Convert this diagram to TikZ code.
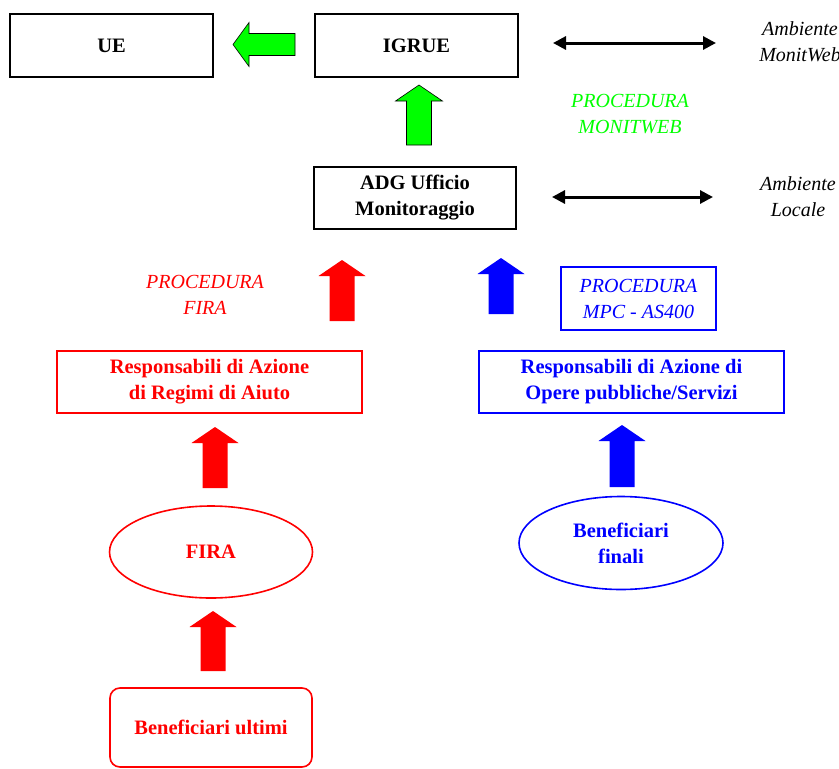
\documentclass[tikz,border=0pt]{standalone}
\usepackage{fontspec}
\setmainfont{Liberation Serif}
\usetikzlibrary{arrows.meta,shapes.geometric}
\definecolor{lgreen}{RGB}{0,255,0}
\definecolor{dred}{RGB}{255,0,0}
\definecolor{dblue}{RGB}{0,0,255}
% block arrow pointing up: fill, outline, x centre, tip y, bottom y
\newcommand{\blockup}[5]{%
  \path[fill=#1,draw=#2,line width=0.6pt,line join=miter]
    (#3-12.5,#5) -- (#3-12.5,#4+16) -- (#3-23.5,#4+16) -- (#3,#4)
    -- (#3+23.5,#4+16) -- (#3+12.5,#4+16) -- (#3+12.5,#5) -- cycle;}
\begin{document}
\begin{tikzpicture}[x=1pt,y=-1pt,
  btxt/.style={font=\fontsize{20.5}{26}\selectfont\bfseries, align=center, inner sep=0pt},
  itxt/.style={font=\fontsize{20}{26}\selectfont\itshape, align=center, inner sep=0pt},
  blk/.style={btxt, draw=black, line width=1.6pt, rectangle},
  rbox/.style={btxt, draw=dred, text=dred, line width=1.6pt, rectangle},
  bbox/.style={btxt, draw=dblue, text=dblue, line width=1.6pt, rectangle},
  dbl/.style={line width=3pt, {Triangle[length=13pt,width=13pt]}-{Triangle[length=13pt,width=13pt]}}
]
\useasboundingbox (0,0) rectangle (839,769);

% top row
\node[blk, minimum width=203pt, minimum height=63pt] (ue) at (111.5,45.5) {UE};
\node[blk, minimum width=203pt, minimum height=63pt] (igrue) at (416.5,45.5) {IGRUE};
\node[blk, minimum width=202pt, minimum height=62pt] (adg) at (415,198) {ADG Ufficio\\Monitoraggio};

% environment labels
\node[itxt] (amw) at (800,41.5) {Ambiente\\MonitWeb};
\node[itxt] (aloc) at (798,196.5) {Ambiente\\Locale};
\coordinate (d1a) at (553,43);
\coordinate (d1b) at (716,43);
\coordinate (d2a) at (552,197);
\coordinate (d2b) at (713,197);
\draw[dbl] (d1a) -- (d1b);
\draw[dbl] (d2a) -- (d2b);

\node[itxt, text=lgreen] (pmw) at (630,114) {PROCEDURA\\MONITWEB};

% green arrows
\path[fill=lgreen,draw=black,line width=0.6pt,line join=miter]
  (295,33.5) -- (249,33.5) -- (249,22.5) -- (233,44.5) -- (249,66.5) -- (249,55.5) -- (295,55.5) -- cycle;
\blockup{lgreen}{black}{419}{85}{145}

% middle
\node[itxt, text=dred] (pfira) at (205,294.5) {PROCEDURA\\FIRA};
\node[itxt, text=dblue, draw=dblue, line width=1.6pt, minimum width=155pt, minimum height=63pt] (pmpc) at (638.5,298.5) {PROCEDURA\\MPC - AS400};

\blockup{dred}{none}{342}{260}{321}
\blockup{dblue}{none}{501}{258}{314}

\node[rbox, minimum width=305pt, minimum height=62pt] (rra) at (209.5,382) {Responsabili di Azione\\di Regimi di Aiuto};
\node[bbox, minimum width=305pt, minimum height=62pt] (rop) at (631.5,382) {Responsabili di Azione di\\Opere pubbliche/Servizi};

\blockup{dred}{none}{215}{427}{488}
\blockup{dblue}{none}{622}{425}{487}

\node[ellipse, btxt, draw=dred, text=dred, line width=1.6pt, minimum width=203pt, minimum height=92pt] (fira) at (211,552) {FIRA};
\node[ellipse, btxt, draw=dblue, text=dblue, line width=1.6pt, minimum width=204pt, minimum height=93pt] (bfin) at (621,543) {Beneficiari\\finali};

\blockup{dred}{none}{213}{611}{671}

\node[btxt, draw=dred, text=dred, line width=1.6pt, rounded corners=10pt, minimum width=202pt, minimum height=79pt, text depth=-6pt] (bult) at (211,727.5) {Beneficiari ultimi};
\end{tikzpicture}
\end{document}
